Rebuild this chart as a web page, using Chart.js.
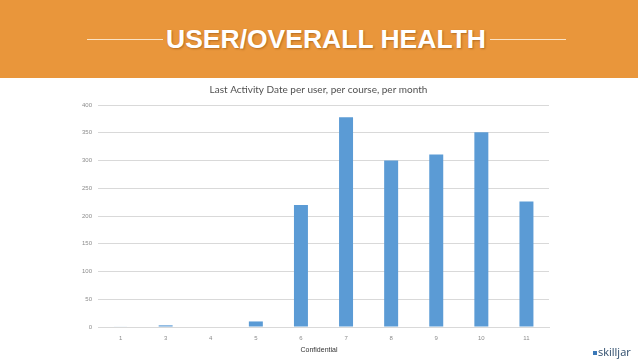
<!DOCTYPE html>
<html>
<head>
<meta charset="utf-8">
<script src="https://cdn.jsdelivr.net/npm/chart.js@4"></script>
<style>
  body { margin: 0; width: 638px; height: 359px; background: #fff; position: relative; overflow: hidden; font-family: "Liberation Sans", Arial, sans-serif; }
  .banner { position: absolute; left: 0; top: 0; width: 638px; height: 78px; background: #E9963B; }
  .banner h1 { position: absolute; left: 7px; width: 638px; top: 24px; margin: 0; text-align: center; color: #fff; font-size: 26.5px; font-weight: bold; line-height: 30px; text-shadow: 1px 1px 2px rgba(120,60,0,0.45); }
  .rule { position: absolute; top: 39px; height: 1px; background: #fbe3c4; }
  .wrap { position: absolute; left: 0; top: 78px; width: 638px; height: 281px; }
  .conf { position: absolute; top: 346px; left: 0; width: 638px; text-align: center; font-size: 7px; color: #333; }
  .logo { position: absolute; left: 593px; top: 344px; font-family: "Open Sans", sans-serif; font-size: 11px; color: #2b4a6a; }
  .logo span { display: inline-block; width: 4px; height: 4px; background: #3a78b8; margin-right: 1px; vertical-align: 1px; }
</style>
</head>
<body>
<div class="banner">
  <div class="rule" style="left:87px;width:76px"></div>
  <div class="rule" style="left:490px;width:76px"></div>
  <h1>USER/OVERALL HEALTH</h1>
</div>
<div class="wrap"><canvas id="chart"></canvas></div>
<div class="conf">Confidential</div>
<div class="logo"><span></span>skilljar</div>
<script>
const months = ['1', '3', '4', '5', '6', '7', '8', '9', '10', '11'];
const activity = [1, 3, 0, 10, 220, 378, 300, 311, 351, 226];
const yTicks = [0, 50, 100, 150, 200, 250, 300, 350, 400];

const ctx = document.getElementById('chart');

new Chart(ctx, {
    type: 'bar',
    data: {
        labels: months,
        datasets: [
            {
                label: 'Last Activity',
                data: activity,
                backgroundColor: '#5B9BD5',
                barPercentage: 0.62,
                categoryPercentage: 0.5,
            }
        ],
    },
    options: {
        responsive: true,
        maintainAspectRatio: false,
        animation: false,
        layout: {
            // near-symmetric padding so the title centres where the reference has it
            padding: { left: 79, right: 80, top: 0, bottom: 17 }
        },
        plugins: {
            legend: { display: false },
            tooltip: { enabled: false },
            title: {
                display: true,
                text: 'Last Activity Date per user, per course, per month',
                color: '#505050',
                font: { family: 'Lato', size: 10, weight: 'normal' },
                padding: { top: 6, bottom: 9 }
            }
        },
        scales: {
            x: {
                grid: { display: false },
                border: { color: '#d9d9d9' },
                ticks: { color: '#8c8c8c', font: { size: 6 }, padding: 0 },
                afterFit: (s) => { s.height = 15; }
            },
            y: {
                min: 0,
                max: 400,
                afterBuildTicks: (s) => { s.ticks = yTicks.map(v => ({ value: v })); },
                grid: { color: '#d9d9d9', drawTicks: false },
                border: { display: false },
                ticks: { color: '#8c8c8c', font: { size: 6 }, padding: 6 },
                afterFit: (s) => { s.width = 19; }
            },
            // empty spacer on the right
            yRight: {
                position: 'right',
                grid: { display: false },
                border: { display: false },
                ticks: { display: false },
                afterFit: (s) => { s.width = 9; }
            }
        }
    }
});
</script>
</body>
</html>
